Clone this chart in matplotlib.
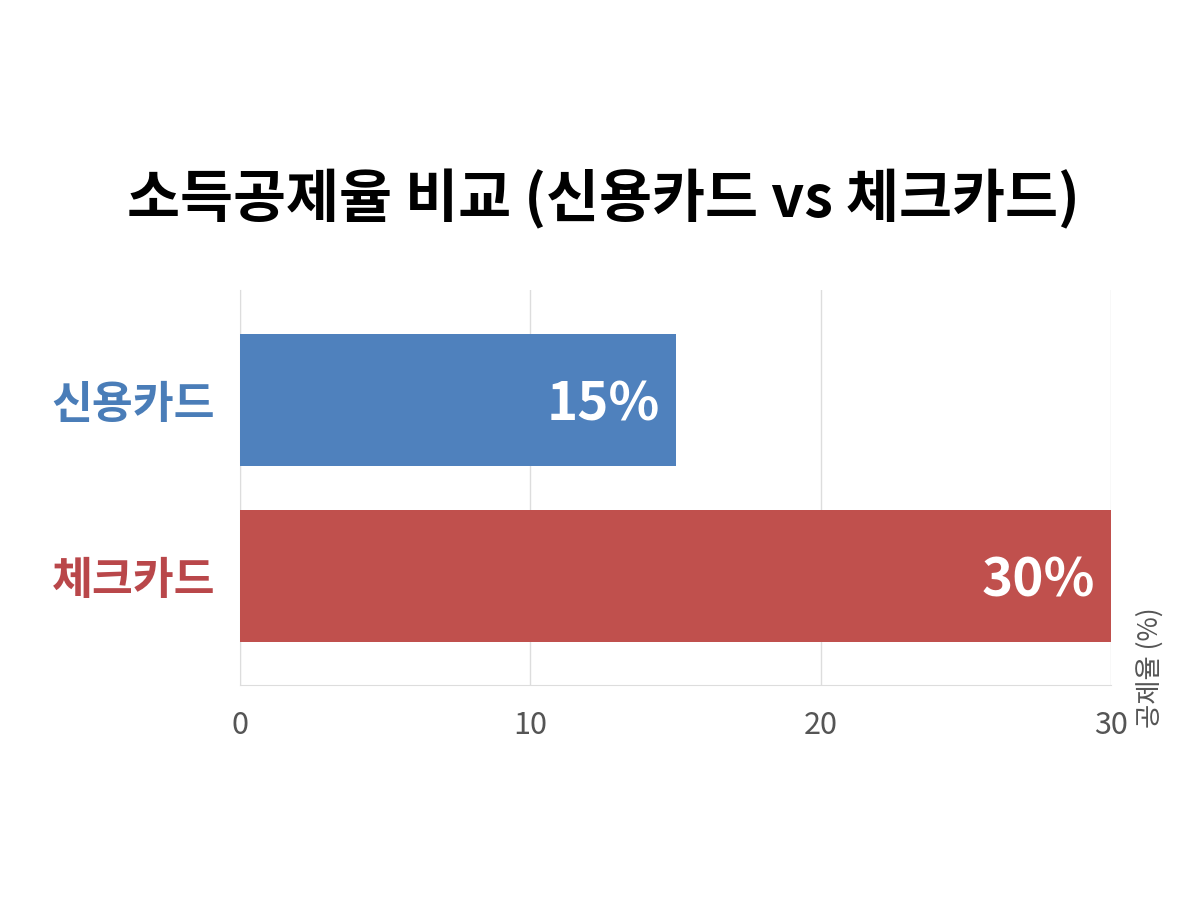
import matplotlib
matplotlib.use("Agg")
import matplotlib.pyplot as plt

plt.rcParams["font.family"] = ["Noto Sans CJK KR", "DejaVu Sans"]

# data
cards = ["체크카드", "신용카드"]
rates = [30, 15]
value_labels = ["30%", "15%"]
bar_colors = ["#C0504D", "#4F81BD"]
label_colors = ["#B9474A", "#4A7DB8"]
x_ticks = [0, 10, 20, 30]

fig = plt.figure(figsize=(12, 9), dpi=100)
ax = fig.add_axes([0.2, 0.239, 0.726, 0.439])

ypos = list(range(len(cards)))
ax.barh(ypos, rates, height=0.75, color=bar_colors, zorder=3)

for y, v, lab in zip(ypos, rates, value_labels):
    ax.text(v - 0.55, y - 0.03, lab, ha="right", va="center", color="white",
            fontsize=38, fontweight="bold", zorder=4)

ax.set_xlim(0, 30)
ax.set_ylim(-0.62, 1.625)
ax.set_xticks(x_ticks)
ax.set_xticklabels([str(t) for t in x_ticks], fontsize=22, color="#555555")
ax.set_yticks(ypos)
ax.set_yticklabels(cards, fontsize=32, fontweight="bold")
for tl, c in zip(ax.get_yticklabels(), label_colors):
    tl.set_color(c)
ax.tick_params(axis="both", length=0)
ax.tick_params(axis="x", pad=18)
ax.tick_params(axis="y", pad=18)

ax.grid(axis="x", color="#DDDDDD", linewidth=1, zorder=0)
ax.spines["top"].set_visible(False)
ax.spines["right"].set_visible(False)
for s in ("left", "bottom"):
    ax.spines[s].set_color("#DDDDDD")

fig.text(0.958, 0.258, "공제율 (%)", rotation=90, ha="center", va="center",
         fontsize=19, color="#555555")

fig.suptitle("소득공제율 비교 (신용카드 vs 체크카드)", x=0.503, y=0.812,
             fontsize=41.5, fontweight="bold", color="black")

fig.savefig("out.png", dpi=100, facecolor="white")
